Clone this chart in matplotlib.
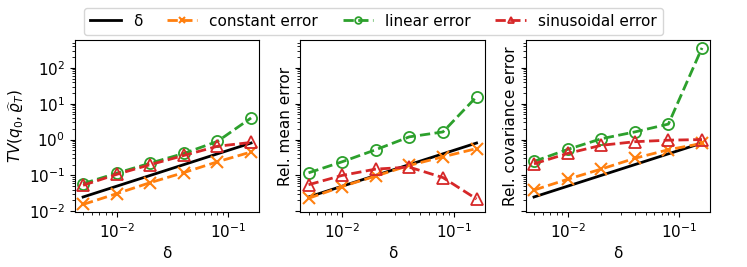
import numpy as np
import matplotlib.pyplot as plt

delta = [0.005, 0.01, 0.02, 0.04, 0.08, 0.16]
ref_line = [5 * d for d in delta]

# total variation
tv_constant = [0.0155, 0.031, 0.063, 0.12, 0.24, 0.45]
tv_linear = [0.059, 0.115, 0.22, 0.41, 0.89, 4.0]
tv_sinusoidal = [0.053, 0.107, 0.20, 0.36, 0.65, 0.83]

# relative mean error
mean_constant = [0.023, 0.049, 0.096, 0.19, 0.33, 0.56]
mean_linear = [0.118, 0.24, 0.52, 1.19, 1.63, 15.6]
mean_sinusoidal = [0.055, 0.10, 0.15, 0.17, 0.087, 0.022]

# relative covariance error
cov_constant = [0.039, 0.078, 0.15, 0.30, 0.52, 0.78]
cov_linear = [0.245, 0.53, 1.05, 1.63, 2.7, 360.0]
cov_sinusoidal = [0.21, 0.41, 0.69, 0.87, 0.96, 1.0]

ylabels = [r"$TV(q_0, \widehat{\varrho}_T)$", "Rel. mean error", "Rel. covariance error"]
panels = [
    (tv_constant, tv_linear, tv_sinusoidal),
    (mean_constant, mean_linear, mean_sinusoidal),
    (cov_constant, cov_linear, cov_sinusoidal),
]

plt.rcParams["font.size"] = 11
plt.rcParams["lines.linewidth"] = 2

fig, axes = plt.subplots(1, 3, figsize=(7.47, 2.67), dpi=100, sharey=True)
fig.subplots_adjust(left=0.1, right=0.951, bottom=0.205, top=0.85, wspace=0.22)

for ax, (const, lin, sinus), ylab in zip(axes, panels, ylabels):
    ax.plot(delta, ref_line, color="black", label="δ")
    ax.plot(delta, const, "--x", color="tab:orange", markersize=8,
            markeredgewidth=1.5, label="constant error")
    ax.plot(delta, lin, "--o", color="tab:green", markerfacecolor="none",
            markersize=8, markeredgewidth=1.3, label="linear error")
    ax.plot(delta, sinus, "--^", color="tab:red", markerfacecolor="none",
            markersize=8, markeredgewidth=1.3, label="sinusoidal error")
    ax.set_xscale("log")
    ax.set_yscale("log")
    ax.set_xlabel("δ")
    ax.set_ylabel(ylab, labelpad=2)

handles, labels = axes[0].get_legend_handles_labels()
fig.legend(handles, labels, loc="upper center", ncol=4,
           bbox_to_anchor=(0.5, 1.0), fontsize=11, columnspacing=1.6,
           markerscale=0.6)

fig.savefig("out.png", dpi=100)
